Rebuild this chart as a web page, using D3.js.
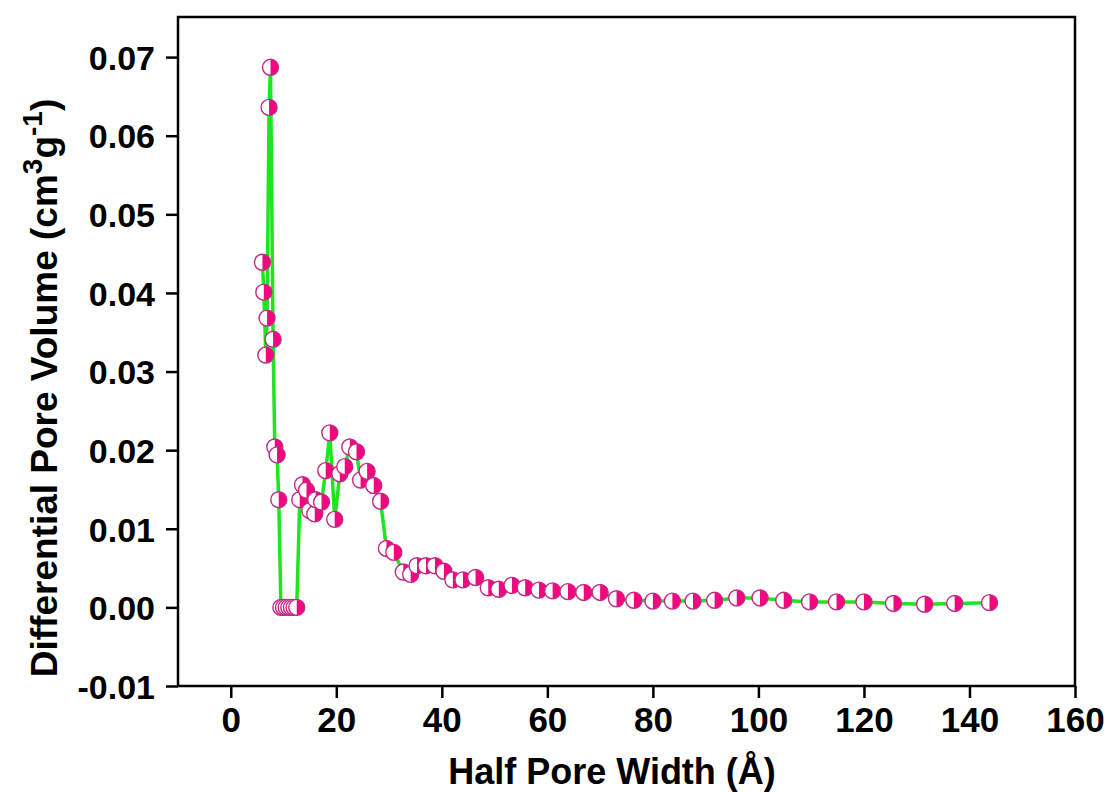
<!DOCTYPE html>
<html>
<head>
<meta charset="utf-8">
<script src="https://cdn.jsdelivr.net/npm/d3@7"></script>
<style>
  body { margin: 0; background: #fff; }
  svg text { font-family: "Liberation Sans", Arial, sans-serif; font-weight: bold; }
</style>
</head>
<body>
<div class="graph_container"></div>
<script>
const w = 1111;
const h = 792;
const margin = {top: 17, right: 36, bottom: 106, left: 178};

// half pore width (Å)
const poreWidth = [
  6.0, 6.26, 6.64, 6.88, 7.26, 7.53, 8.02, 8.34, 8.78, 9.10,
  9.5, 10.0, 10.5, 11.0, 11.5, 12.0, 12.5,
  13.08, 13.6, 14.35, 14.98, 15.92, 16.1, 17.2, 18.0, 18.77, 19.7,
  20.67, 21.6, 22.56, 23.83, 24.6, 25.84, 27.1, 28.4, 29.5, 30.9,
  32.7, 34.1, 35.3, 37.0, 38.7, 40.4, 42.1, 44.0, 46.4, 48.8,
  50.8, 53.3, 55.8, 58.4, 61.0, 63.9, 66.9, 70.0, 73.1, 76.4,
  80.0, 83.7, 87.6, 91.7, 95.9, 100.3, 104.8, 109.7, 114.8, 120.0,
  125.6, 131.5, 137.2, 143.8
];
// differential pore volume (cm3/g)
const poreVolume = [
  0.0439, 0.0401, 0.0321, 0.0368, 0.0636, 0.0687, 0.0341, 0.0204, 0.0194, 0.0137,
  0, 0, 0, 0, 0, 0, 0,
  0.0137, 0.0156, 0.0149, 0.0123, 0.0119, 0.0137, 0.0134, 0.0174, 0.0222, 0.0112,
  0.0170, 0.0179, 0.0204, 0.0198, 0.0162, 0.0173, 0.0155, 0.0135, 0.0075, 0.0070,
  0.0045, 0.0042, 0.0053, 0.0053, 0.0053, 0.0046, 0.0035, 0.0035, 0.0038, 0.0025,
  0.0023, 0.0028, 0.0025, 0.0022, 0.0021, 0.0020, 0.0019, 0.0019, 0.0011, 0.0009,
  0.0008, 0.0008, 0.0008, 0.0009, 0.0012, 0.0012, 0.0009, 0.0007, 0.0007, 0.0007,
  0.0005, 0.0004, 0.0005, 0.0006
];
const xTicks = [0, 20, 40, 60, 80, 100, 120, 140, 160];
const yTicks = [-0.01, 0, 0.01, 0.02, 0.03, 0.04, 0.05, 0.06, 0.07];

const data = poreWidth.map((x, i) => ({x: x, y: poreVolume[i]}));

const svg = d3.select(".graph_container").append("svg").attr("width", w).attr("height", h);

var xScale = d3.scaleLinear().domain([-10, 160]).range([margin.left, w - margin.right]);
var yScale = d3.scaleLinear().domain([-0.01, 0.0751]).range([h - margin.bottom, margin.top]);

var xAxis = d3.axisBottom(xScale).tickValues(xTicks).tickSize(12).tickPadding(9).tickFormat(d3.format('d'));
var yAxis = d3.axisLeft(yScale).tickValues(yTicks).tickSize(12).tickPadding(11).tickFormat(d => d.toFixed(2));

svg.append('g')
  .attr('transform', 'translate(0,' + (h - margin.bottom) + ')')
  .call(xAxis)
  .call(g => g.select('.domain').remove())
  .call(g => g.selectAll('text').attr('font-size', 35).attr('fill', '#000'))
  .call(g => g.selectAll('line').attr('stroke-width', 2.5).attr('stroke', '#000'));

svg.append('g')
  .attr('transform', 'translate(' + margin.left + ',0)')
  .call(yAxis)
  .call(g => g.select('.domain').remove())
  .call(g => g.selectAll('text').attr('font-size', 34).attr('fill', '#000').attr('dy', '0.36em'))
  .call(g => g.selectAll('line').attr('stroke-width', 2.5).attr('stroke', '#000'));

// frame
svg.append('rect')
  .attr('x', margin.left)
  .attr('y', margin.top)
  .attr('width', w - margin.left - margin.right)
  .attr('height', h - margin.top - margin.bottom)
  .attr('fill', 'none')
  .attr('stroke', '#000')
  .attr('stroke-width', 2.5);

// line
var line = d3.line().x(d => xScale(d.x)).y(d => yScale(d.y));
svg.append('path')
  .datum(data)
  .attr('d', line)
  .attr('fill', 'none')
  .attr('stroke', '#1ee61e')
  .attr('stroke-width', 3.5);

// half-filled markers
var r = 8;
var half = d3.arc().innerRadius(0).outerRadius(r).startAngle(0).endAngle(Math.PI);
var marks = svg.append('g').selectAll('g')
  .data(data)
  .enter()
  .append('g')
  .attr('transform', d => 'translate(' + xScale(d.x) + ',' + yScale(d.y) + ')');

marks.append('circle').attr('r', r).attr('fill', '#fff');
marks.append('path').attr('d', half).attr('fill', '#f2077f');
marks.append('circle').attr('r', r).attr('fill', 'none').attr('stroke', '#c02a84').attr('stroke-width', 1.4);

// axis titles
svg.append('text')
  .attr('x', 612)
  .attr('y', h - 8)
  .attr('text-anchor', 'middle')
  .attr('font-size', 36)
  .text('Half Pore Width (Å)');

var yt = svg.append('text')
  .attr('transform', 'translate(57,388) rotate(-90)')
  .attr('text-anchor', 'middle')
  .attr('font-size', 37);
yt.append('tspan').text('Differential Pore Volume (cm');
yt.append('tspan').attr('dy', -15).attr('font-size', 28).text('3');
yt.append('tspan').attr('dy', 15).text('g');
yt.append('tspan').attr('dy', -15).attr('font-size', 28).text('-1');
yt.append('tspan').attr('dy', 15).text(')');
</script>
</body>
</html>
